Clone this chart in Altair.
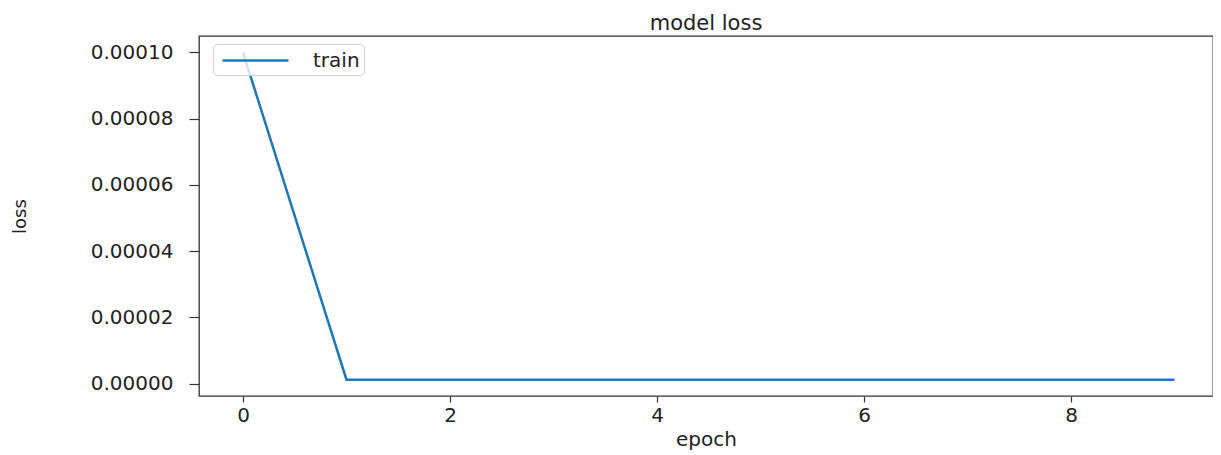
import altair as alt
import pandas as pd

# data
epochs = [0, 1, 2, 3, 4, 5, 6, 7, 8, 9]
train_loss = [1.0e-4, 1.2e-6, 1.2e-6, 1.2e-6, 1.2e-6, 1.2e-6, 1.2e-6, 1.2e-6, 1.2e-6, 1.2e-6]
series_name = ["train"] * len(epochs)
x_ticks = [0, 2, 4, 6, 8]
y_ticks = [0.0, 0.00002, 0.00004, 0.00006, 0.00008, 0.0001]

df = pd.DataFrame({"epoch": epochs, "loss": train_loss, "series": series_name})

FONT = "DejaVu Sans"
TXT = "#222222"
EDGE = "#333333"

chart = alt.Chart(df).mark_line(strokeWidth=2.5, clip=True).encode(
    x=alt.X(
        "epoch:Q",
        scale=alt.Scale(domain=[-0.425, 9.372], nice=False, zero=False),
        axis=alt.Axis(
            values=x_ticks, format="d", title="epoch", grid=False, domain=False,
            tickSize=6, tickColor=EDGE, tickWidth=1.2,
            labelFontSize=20, labelFont=FONT, labelColor=TXT, labelPadding=3,
            titleFontSize=20, titleFont=FONT, titleColor=TXT, titleFontWeight="normal",
            titleX=507, titleY=49, titleAlign="center", titleBaseline="alphabetic",
        ),
    ),
    y=alt.Y(
        "loss:Q",
        scale=alt.Scale(domain=[-3.74e-6, 1.0494e-4], nice=False, zero=False),
        axis=alt.Axis(
            values=y_ticks, format=".5f", title="loss", grid=False, domain=False,
            tickSize=10, tickColor=EDGE, tickWidth=1.2,
            labelFontSize=20, labelFont=FONT, labelColor=TXT, labelPadding=16,
            titleFontSize=18, titleFont=FONT, titleColor=TXT, titleFontWeight="normal",
            titleAngle=270, titleX=-179, titleY=180, titleAlign="center", titleBaseline="middle",
        ),
    ),
    color=alt.Color(
        "series:N",
        scale=alt.Scale(domain=["train"], range=["#1f77b4"]),
        legend=alt.Legend(
            title=None, orient="none", legendX=14, legendY=8,
            symbolType="M-0.636,0H5.364", symbolSize=484, symbolStrokeWidth=2.5,
            labelFontSize=20, labelFont=FONT, labelColor=TXT, labelOffset=71,
            padding=4, fillColor="rgba(255,255,255,0.8)", strokeColor="#d0d0d0",
            cornerRadius=4,
        ),
    ),
).properties(
    width=1014,
    height=360,
    title=alt.TitleParams("model loss", fontSize=21, font=FONT, fontWeight="normal",
                          color=TXT, offset=2, anchor="middle"),
    autosize=alt.AutoSizeParams(type="none"),
    padding={"left": 191, "top": 28, "right": 0, "bottom": 58},
).configure_view(
    stroke=EDGE, strokeWidth=1.3
)

chart.save("out.html", embed_options={"renderer": "svg", "actions": False})
